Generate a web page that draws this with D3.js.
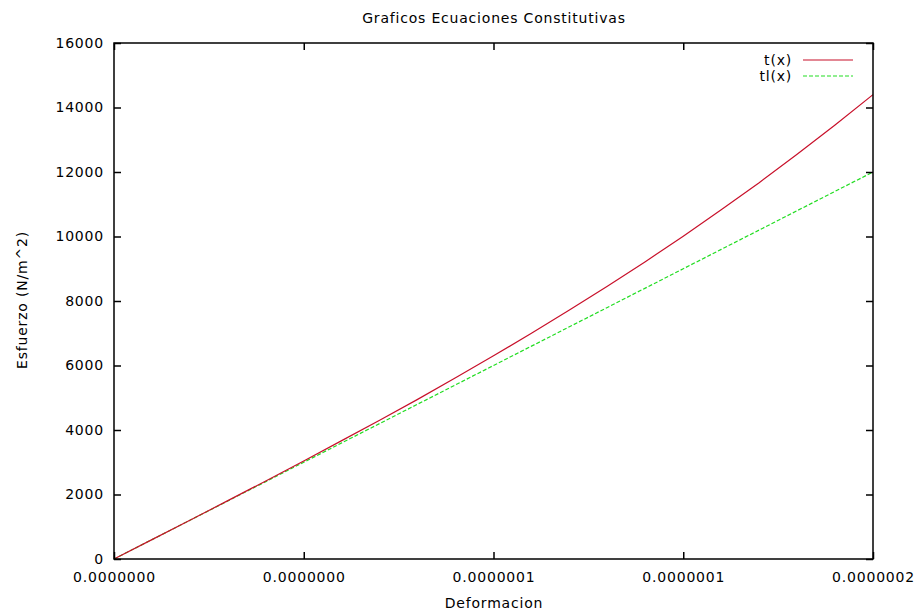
<!DOCTYPE html>
<html>
<head>
<meta charset="utf-8">
<script src="https://cdn.jsdelivr.net/npm/d3@7"></script>
<style>
  html, body { margin: 0; padding: 0; background: #fff; }
  svg { display: block; }
  text { font-family: "DejaVu Sans", "Liberation Sans", sans-serif; font-size: 14px; letter-spacing: 0.8px; fill: #000; }
</style>
</head>
<body>
<svg id="chart" width="916" height="611"></svg>
<script>
// Strain values (deformacion)
const strain = [0, 1e-8, 2e-8, 3e-8, 4e-8, 5e-8, 6e-8, 7e-8, 8e-8, 9e-8, 1e-7,
  1.1e-7, 1.2e-7, 1.3e-7, 1.4e-7, 1.5e-7, 1.6e-7, 1.7e-7, 1.8e-7, 1.9e-7, 2e-7];
// Stress for t(x), the nonlinear constitutive law
const stressT = [0, 600, 1200, 1810, 2420, 3040, 3670, 4300, 4950, 5620, 6300,
  7000, 7720, 8460, 9220, 10010, 10830, 11670, 12550, 13460, 14400];
// Stress for tl(x), the linear constitutive law
const stressTL = [0, 600, 1200, 1800, 2400, 3000, 3600, 4200, 4800, 5400, 6000,
  6600, 7200, 7800, 8400, 9000, 9600, 10200, 10800, 11400, 12000];
const xTicks = [0, 5e-8, 1e-7, 1.5e-7, 2e-7];
const yTicks = [0, 2000, 4000, 6000, 8000, 10000, 12000, 14000, 16000];
const seriesNames = ["t(x)", "tl(x)"];

const svg = d3.select("#chart");
const plotLeft = 114, plotRight = 873, plotTop = 43, plotBottom = 559;

const x = d3.scaleLinear().domain([0, 2e-7]).range([plotLeft, plotRight]);
const y = d3.scaleLinear().domain([0, 16000]).range([plotBottom, plotTop]);

const tickLen = 7;

// Curves
const line = d3.line().x((d, i) => x(strain[i])).y(d => y(d));
svg.append("path").datum(stressTL)
  .attr("d", line).attr("fill", "none")
  .attr("stroke", "#22dd22").attr("stroke-width", 1.2)
  .attr("stroke-dasharray", "4,2");
svg.append("path").datum(stressT)
  .attr("d", line).attr("fill", "none")
  .attr("stroke", "#c8102a").attr("stroke-width", 1.2);

// Axes with inward ticks, mirrored on the opposite sides
const fmt = d3.format(".7f");
const xAxis = svg.append("g").attr("transform", `translate(0,${plotBottom})`)
  .call(d3.axisBottom(x).tickValues(xTicks).tickSizeInner(-tickLen).tickSizeOuter(0).tickPadding(13).tickFormat(fmt));
const xAxisTop = svg.append("g").attr("transform", `translate(0,${plotTop})`)
  .call(d3.axisTop(x).tickValues(xTicks).tickSizeInner(-tickLen).tickSizeOuter(0).tickFormat(""));
const yAxis = svg.append("g").attr("transform", `translate(${plotLeft},0)`)
  .call(d3.axisLeft(y).tickValues(yTicks).tickSizeInner(-tickLen).tickSizeOuter(0).tickPadding(10).tickFormat(d3.format("d")));
const yAxisRight = svg.append("g").attr("transform", `translate(${plotRight},0)`)
  .call(d3.axisRight(y).tickValues(yTicks).tickSizeInner(-tickLen).tickSizeOuter(0).tickFormat(""));

[xAxis, xAxisTop, yAxis, yAxisRight].forEach(g => {
  g.select(".domain").remove();
  g.selectAll("line").attr("stroke", "#000").attr("stroke-width", 1.5);
  g.selectAll("text").attr("font-family", null).attr("font-size", null).style("font-size", "14px");
});

// Frame
svg.append("rect")
  .attr("x", plotLeft).attr("y", plotTop)
  .attr("width", plotRight - plotLeft).attr("height", plotBottom - plotTop)
  .attr("fill", "none").attr("stroke", "#000").attr("stroke-width", 1.5);

// Titles
svg.append("text").attr("x", 494).attr("y", 23).attr("text-anchor", "middle")
  .text("Graficos Ecuaciones Constitutivas");
svg.append("text").attr("x", 494).attr("y", 608).attr("text-anchor", "middle")
  .text("Deformacion");
svg.append("text").attr("transform", "translate(27,300) rotate(-90)")
  .attr("text-anchor", "middle").text("Esfuerzo (N/m^2)");

// Legend
const legend = svg.append("g");
const legendStyle = [
  { stroke: "#c8102a", dash: null },
  { stroke: "#22dd22", dash: "4,2" }
];
seriesNames.forEach((name, i) => {
  const ly = 60 + i * 16;
  legend.append("text").attr("x", 792).attr("y", ly).attr("dy", "0.35em")
    .attr("text-anchor", "end").text(name);
  legend.append("line").attr("x1", 803).attr("x2", 853).attr("y1", ly).attr("y2", ly)
    .attr("stroke", legendStyle[i].stroke).attr("stroke-width", 1.2)
    .attr("stroke-dasharray", legendStyle[i].dash);
});
</script>
</body>
</html>
